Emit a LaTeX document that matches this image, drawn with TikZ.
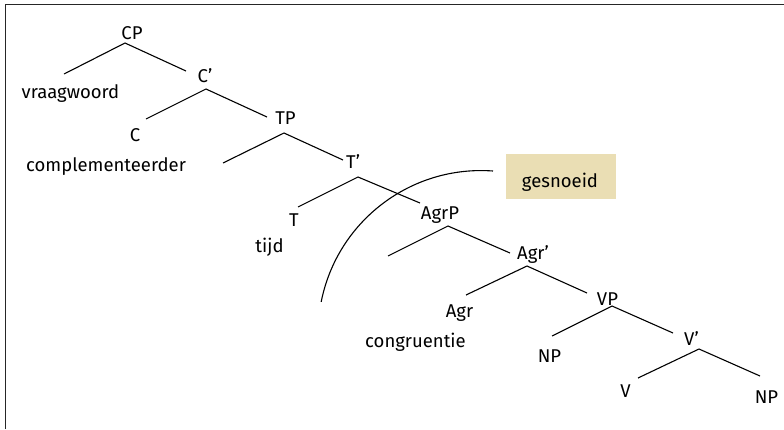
\documentclass[tikz,border=0pt]{standalone}
\usepackage{fontspec}
\setmainfont{Fira Sans}
\definecolor{tanbox}{RGB}{234,222,180}
\begin{document}
\begin{tikzpicture}[x=1pt,y=-1pt,
  lab/.style={anchor=base,inner sep=0pt,font=\fontsize{18.5}{22}\selectfont},
  branch/.style={line width=1.1pt,black},
  framestyle/.style={line width=1.8pt,black!85}]
\useasboundingbox (0,0) rectangle (784,429);
\draw[framestyle] (5.5,429) -- (5.5,4.5) -- (784,4.5);
% labels
\node[lab] (CP) at (132,39) {CP};
\node[lab] (vraag) at (70.5,98.5) {vraagwoord};
\node[lab] (Cb) at (205,82.5) {C’};
\node[lab] (TP) at (285.5,124) {TP};
\node[lab] (C) at (135,141.5) {C};
\node[lab] (compl) at (106,171) {complementeerder};
\node[lab] (Tb) at (353,168) {T’};
\node[lab] (T) at (294,226.5) {T};
\node[lab] (tijd) at (269.5,252) {tijd};
\node[lab] (AgrP) at (440,219) {AgrP};
\node[lab] (Agrb) at (533,259) {Agr’};
\node[lab] (Agr) at (459.5,317) {Agr};
\node[lab] (congr) at (415.5,347) {congruentie};
\node[lab] (VP) at (607.5,305) {VP};
\node[lab] (NPa) at (549.5,362.5) {NP};
\node[lab] (Vb) at (691.5,345) {V’};
\node[lab] (V) at (625.5,397) {V};
\node[lab] (NPb) at (766.5,403) {NP};
% pruned box
\node[fill=tanbox,minimum width=110pt,minimum height=45pt,inner sep=0pt] (gbox) at (561,176.5) {};
\node[lab] (gtext) at (560,187) {gesnoeid};
% branch coordinates
\coordinate (aCP) at (125,43);  \coordinate (lCP) at (64,74);   \coordinate (rCP) at (186,71);
\coordinate (aCb) at (206,89);  \coordinate (lCb) at (146,119); \coordinate (rCb) at (267,117);
\coordinate (aTP) at (284,133); \coordinate (lTP) at (223,163); \coordinate (rTP) at (343,160);
\coordinate (aTb) at (358,177); \coordinate (lTb) at (298,207); \coordinate (rTb) at (420,203);
\coordinate (aAgrP) at (448,226); \coordinate (lAgrP) at (388,256); \coordinate (rAgrP) at (510,253);
\coordinate (aAgrb) at (527,266); \coordinate (lAgrb) at (466,295); \coordinate (rAgrb) at (587,293);
\coordinate (aVP) at (612,306); \coordinate (lVP) at (552,336); \coordinate (rVP) at (673,333);
\coordinate (aVb) at (699,349); \coordinate (lVb) at (638,378); \coordinate (rVb) at (760,376);
\foreach \n in {CP,Cb,TP,Tb,AgrP,Agrb,VP,Vb}{
  \draw[branch] (l\n) -- (a\n) -- (r\n);
}
% pruning arc
\coordinate (arcstart) at (493,171);
\draw[branch] (arcstart) arc[start angle=85.8, end angle=168.8, radius=163pt];
\end{tikzpicture}
\end{document}
